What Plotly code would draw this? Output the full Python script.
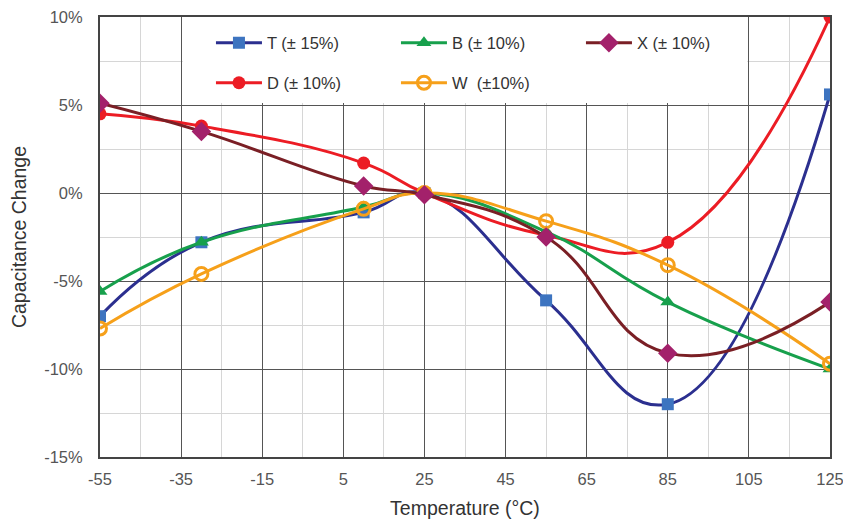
import plotly.graph_objects as go

temps = [-55, -30, 10, 25, 55, 85, 125]
series_names = ["T (± 15%)", "D (± 10%)", "B (± 10%)", "W  (±10%)", "X (± 10%)"]
T_vals = [-7.0, -2.8, -1.1, 0.0, -6.1, -12.0, 5.6]
D_vals = [4.5, 3.8, 1.7, 0.0, -2.4, -2.8, 10.0]
B_vals = [-5.6, -2.8, -0.8, 0.0, -2.2, -6.2, -10.0]
W_vals = [-7.7, -4.6, -0.9, 0.0, -1.6, -4.1, -9.7]
X_vals = [5.1, 3.5, 0.4, -0.1, -2.5, -9.1, -6.2]

x_ticks = [-55, -35, -15, 5, 25, 45, 65, 85, 105, 125]
y_ticks = [-15, -10, -5, 0, 5, 10]
y_ticktext = ["-15%", "-10%", "-5%", "0%", "5%", "10%"]

fig = go.Figure()

SM = 1.3
styles = {
    "T": dict(line=dict(color="#2b2f8f", width=3, shape="spline", smoothing=SM),
              marker=dict(symbol="square", size=12, color="#3d74c0", line=dict(width=0)), legend="legend"),
    "D": dict(line=dict(color="#ec1c24", width=3, shape="spline", smoothing=SM),
              marker=dict(symbol="circle", size=13, color="#ec1c24", line=dict(width=0)), legend="legend2"),
    "B": dict(line=dict(color="#17a04c", width=3, shape="spline", smoothing=SM),
              marker=dict(symbol="triangle-up", size=13, color="#17a04c", line=dict(width=0)), legend="legend"),
    "W": dict(line=dict(color="#f6a01a", width=3, shape="spline", smoothing=SM),
              marker=dict(symbol="circle-open", size=13, color="#f6a01a", line=dict(width=3)), legend="legend2"),
    "X": dict(line=dict(color="#7a1f25", width=3, shape="spline", smoothing=SM),
              marker=dict(symbol="diamond", size=15, color="#a3216b", line=dict(width=0)), legend="legend"),
}

data = {"T": T_vals, "D": D_vals, "B": B_vals, "W": W_vals, "X": X_vals}
names = dict(zip(["T", "D", "B", "W", "X"], series_names))
legend_rank = {"T": 1, "B": 2, "X": 3, "D": 1, "W": 2}

for key in ["T", "D", "B", "W", "X"]:
    s = styles[key]
    fig.add_trace(go.Scatter(
        x=temps, y=data[key], name=names[key], mode="lines+markers",
        line=s["line"], marker=s["marker"], legend=s["legend"],
        legendrank=legend_rank[key],
    ))

# white backing box behind the legend
fig.add_shape(type="rect", xref="x", yref="y", x0=-34.6, x1=104.6, y0=5.12, y1=10,
              fillcolor="white", line=dict(width=0), layer="between")

FONT = "Liberation Sans, Arial"
legend_common = dict(orientation="h", bgcolor="rgba(0,0,0,0)", borderwidth=0,
                     font=dict(family=FONT, size=16.5, color="#333333"),
                     entrywidth=124, entrywidthmode="pixels", itemwidth=46,
                     xanchor="left", yanchor="middle", itemclick=False)

fig.update_layout(
    width=843, height=516,
    margin=dict(l=92, r=21, t=9, b=67),
    paper_bgcolor="white", plot_bgcolor="white",
    font=dict(family=FONT, size=16, color="#444444"),
    showlegend=True,
    legend=dict(x=0.152, y=0.941, **legend_common),
    legend2=dict(x=0.152, y=0.850, **legend_common),
    xaxis=dict(
        range=[-55, 125], tickvals=x_ticks, ticktext=[str(v) for v in x_ticks],
        showgrid=True, gridcolor="#555555", gridwidth=1,
        minor=dict(dtick=10, tick0=-55, showgrid=True, gridcolor="#d6d6d6", gridwidth=1),
        showline=True, linecolor="#444444", linewidth=2, mirror=True,
        ticks="", zeroline=False, automargin=False, ticklabelstandoff=6,
        ticklabeloverflow="allow",
        title=dict(text="Temperature (°C)", font=dict(size=19.5, color="#333333"), standoff=15),
        tickfont=dict(size=16.5, color="#555555"),
    ),
    yaxis=dict(
        range=[-15, 10], tickvals=y_ticks, ticktext=y_ticktext,
        showgrid=True, gridcolor="#555555", gridwidth=1,
        minor=dict(dtick=2.5, tick0=-15, showgrid=True, gridcolor="#d6d6d6", gridwidth=1),
        showline=True, linecolor="#444444", linewidth=2, mirror=True,
        ticks="", zeroline=False, automargin=False, ticklabelstandoff=12,
        ticklabeloverflow="allow",
        title=dict(text="Capacitance Change", font=dict(size=19.5, color="#333333"), standoff=16),
        tickfont=dict(size=16.5, color="#555555"),
    ),
)

fig.write_html("out.html")
